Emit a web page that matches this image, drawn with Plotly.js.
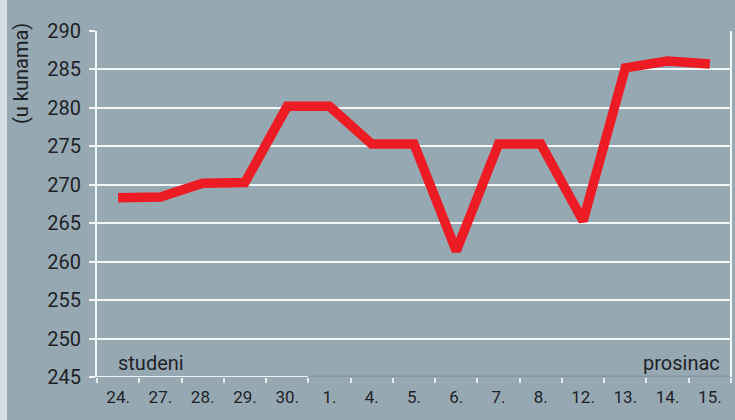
<!DOCTYPE html>
<html>
<head>
<meta charset="utf-8">
<script src="https://cdn.plot.ly/plotly-3.0.1.min.js"></script>
<style>
  html, body { margin: 0; padding: 0; background: #96a9b3; }
  #chart { width: 735px; height: 420px; }
</style>
</head>
<body>
<div id="chart"></div>
<script>
const categories = ["24.", "27.", "28.", "29.", "30.", "1.", "4.", "5.", "6.", "7.", "8.", "12.", "13.", "14.", "15."];
const prices = [268.3, 268.4, 270.2, 270.3, 280.2, 280.2, 275.3, 275.3, 261.4, 275.3, 275.3, 265.3, 285.2, 286.1, 285.7];
const yTicks = [245, 250, 255, 260, 265, 270, 275, 280, 285, 290];
const yTitle = "(u kunama)";
const monthLeft = "studeni";
const monthRight = "prosinac";

const font = "Roboto, 'DejaVu Sans', sans-serif";
const textColor = "#1e2226";

const trace = {
  x: categories,
  y: prices,
  type: "scatter",
  mode: "lines",
  line: { color: "#ed1c24", width: 9.5, shape: "linear" },
  hoverinfo: "skip"
};

const layout = {
  width: 735,
  height: 420,
  paper_bgcolor: "#96a9b3",
  plot_bgcolor: "#96a9b3",
  margin: { l: 97, r: 4, t: 31, b: 43 },
  showlegend: false,
  font: { family: font, color: textColor },
  xaxis: {
    type: "category",
    range: [-0.5, categories.length - 0.5],
    showgrid: false,
    zeroline: false,
    showline: false,
    ticks: "outside",
    tickson: "boundaries",
    ticklen: 5,
    tickwidth: 2,
    tickcolor: "#e6ecef",
    tickfont: { family: font, size: 17, color: textColor },
    ticklabelstandoff: 8,
    fixedrange: true
  },
  yaxis: {
    range: [245, 290],
    tickvals: yTicks,
    showgrid: true,
    gridcolor: "#f4f7f8",
    gridwidth: 2,
    zeroline: false,
    showline: true,
    linecolor: "#f4f7f8",
    linewidth: 2,
    ticks: "outside",
    ticklen: 6,
    tickwidth: 2,
    tickcolor: "#f4f7f8",
    tickfont: { family: font, size: 20, color: textColor },
    ticklabelstandoff: 4,
    fixedrange: true
  },
  shapes: [
    { type: "rect", xref: "paper", yref: "paper", x0: -97/634, x1: -90/634, y0: -1, y1: 2, fillcolor: "#d3dde3", line: { width: 0 }, layer: "below" },
    { type: "line", xref: "x", yref: "y", x0: -0.5, x1: 4.5, y0: 245, y1: 245, line: { color: "#eef2f4", width: 2 } },
    { type: "line", xref: "x", yref: "y", x0: 4.5, x1: 14.5, y0: 245, y1: 245, line: { color: "#87959e", width: 3 } },
    { type: "line", xref: "paper", yref: "y", x0: 1, x1: 1, y0: 245, y1: 290, line: { color: "#f4f7f8", width: 2 } }
  ],
  annotations: [
    { text: yTitle, xref: "paper", yref: "paper", x: -76/634, y: (420-43-74)/346, xanchor: "center", yanchor: "middle", textangle: -90, showarrow: false, font: { family: font, size: 20, color: textColor } },
    { text: monthLeft, xref: "x", yref: "y", x: -0.5, y: 246.8, xanchor: "left", yanchor: "middle", xshift: 19, showarrow: false, font: { family: font, size: 20, color: textColor } },
    { text: monthRight, xref: "x", yref: "y", x: 14.5, y: 246.8, xanchor: "right", yanchor: "middle", xshift: -9, showarrow: false, font: { family: font, size: 20, color: textColor } }
  ]
};

Plotly.newPlot("chart", [trace], layout, { displayModeBar: false, staticPlot: true });
</script>
</body>
</html>
